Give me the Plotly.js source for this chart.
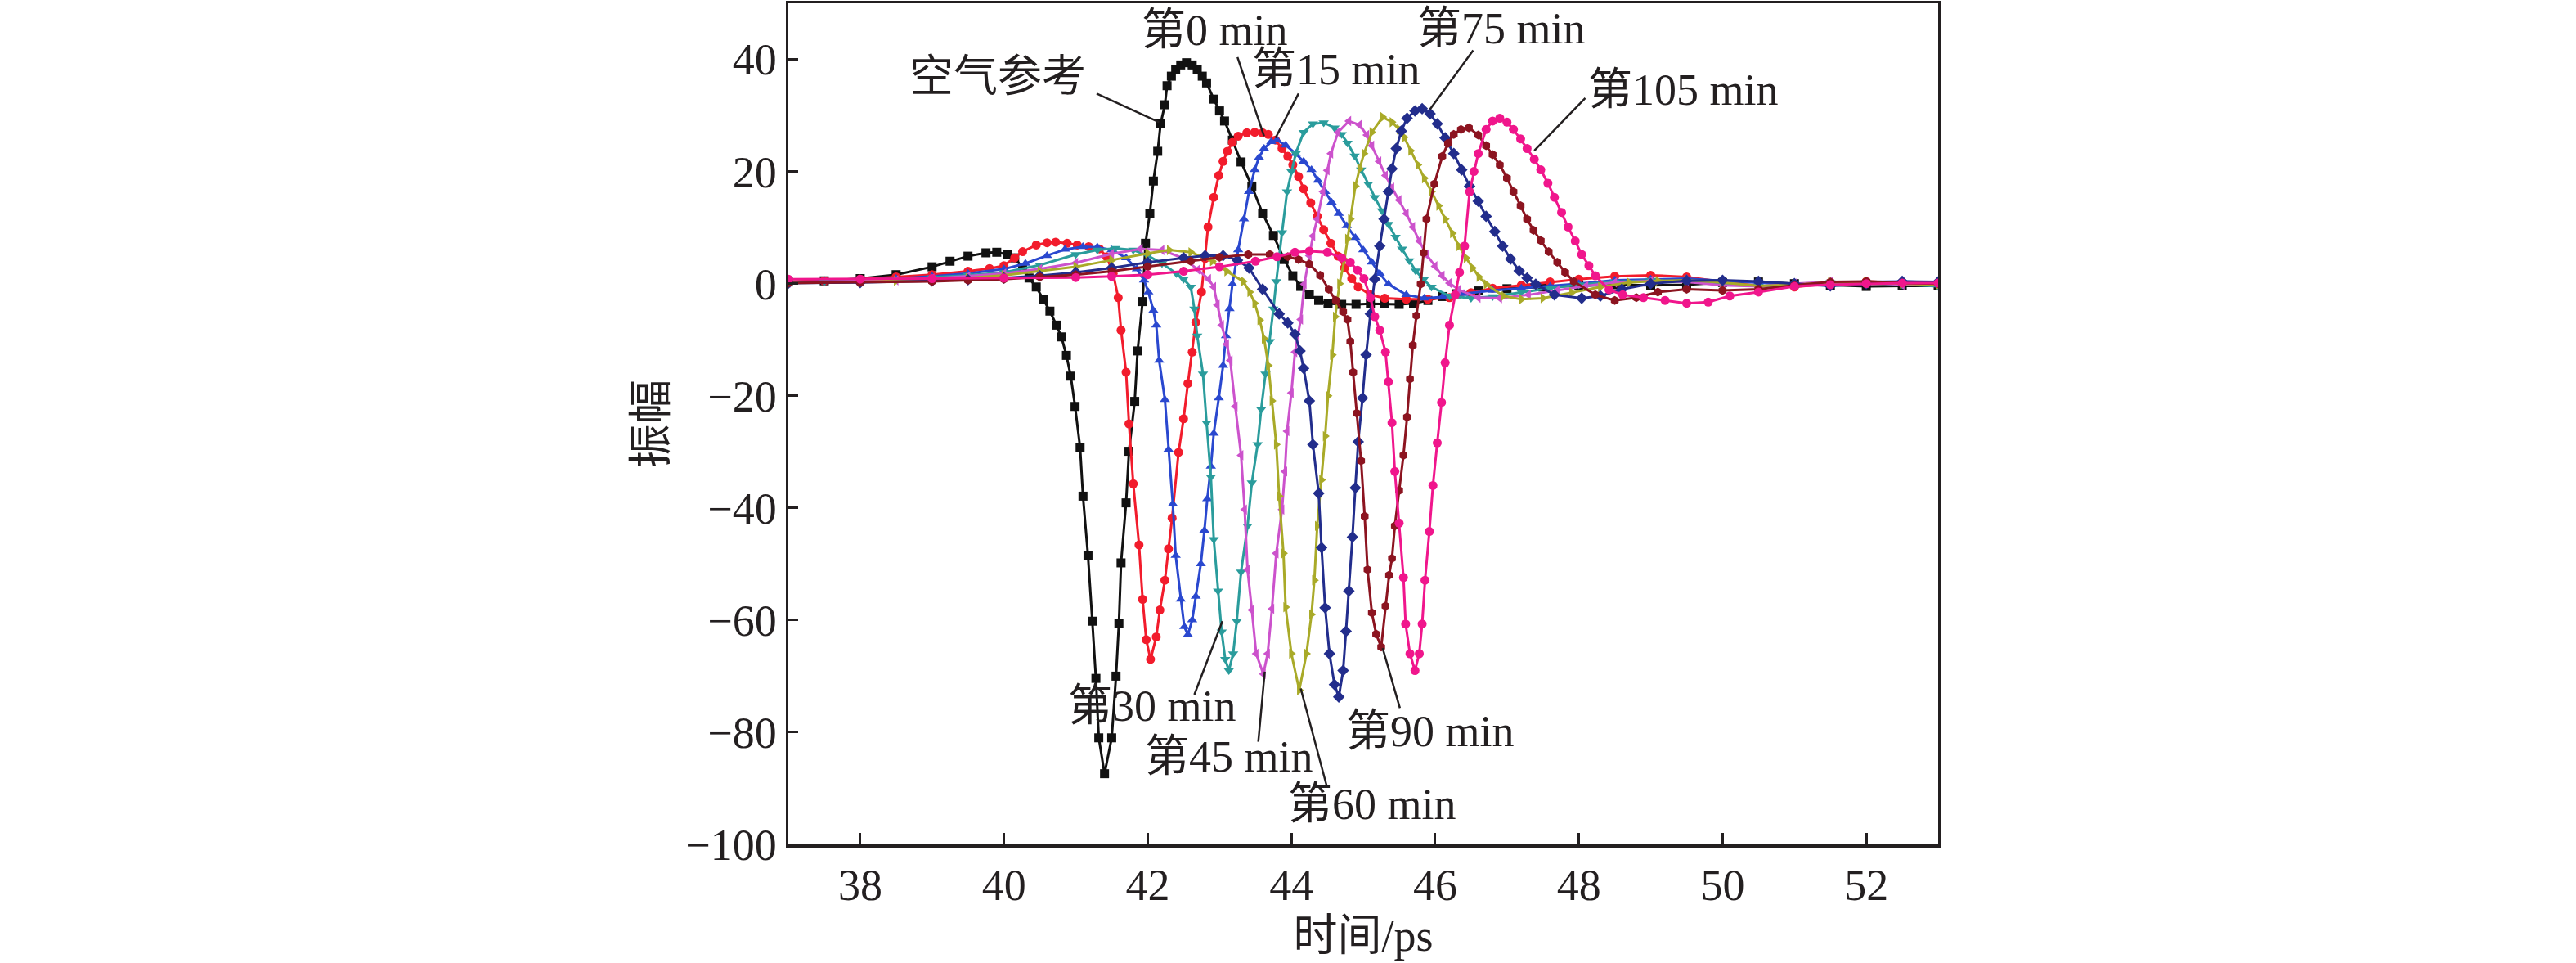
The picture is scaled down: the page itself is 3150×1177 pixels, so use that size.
<!DOCTYPE html>
<html>
<head>
<meta charset="utf-8">
<script src="https://cdn.plot.ly/plotly-3.0.1.min.js"></script>
<style>
  html, body { margin: 0; padding: 0; background: #fff; }
  #chart { width: 3150px; height: 1177px; }
</style>
</head>
<body>
<div id="chart"></div>
<script>
// [time (ps), amplitude] pairs, one array per curve
const airRef = [[37,0.3],[37.5,0.5],[38,0.9],[38.5,1.6],[39,3.0],[39.25,4.0],[39.5,4.9],[39.75,5.5],[39.9,5.6],[40.05,5.2],[40.15,4.6],[40.26,2.8],[40.35,1.0],[40.45,-0.6],[40.55,-2.8],[40.64,-4.9],[40.73,-7.4],[40.8,-9.5],[40.87,-12.8],[40.93,-16.5],[40.99,-21.9],[41.06,-29.2],[41.1,-37.9],[41.17,-48.5],[41.23,-60.2],[41.28,-70.4],[41.32,-81],[41.4,-87.4],[41.5,-81],[41.56,-70],[41.6,-60.6],[41.63,-49.8],[41.7,-39.1],[41.74,-29.9],[41.82,-21],[41.86,-12],[41.93,-3.2],[41.97,7.2],[42.03,12.5],[42.08,18.3],[42.14,23.6],[42.18,28.5],[42.24,31.9],[42.27,35.3],[42.33,37.0],[42.39,38.2],[42.46,39.0],[42.54,39.4],[42.62,39.0],[42.69,38.2],[42.76,37.0],[42.82,35.8],[42.92,32.9],[43.0,30.8],[43.07,29.0],[43.18,25.6],[43.3,21.7],[43.45,17.4],[43.6,12.5],[43.75,8.6],[43.9,4.3],[44.02,1.4],[44.13,-0.5],[44.25,-2.0],[44.38,-3.0],[44.51,-3.6],[44.7,-3.7],[44.9,-3.7],[45.1,-3.6],[45.3,-3.6],[45.5,-3.7],[45.7,-3.5],[45.9,-3.0],[46.1,-2.3],[46.3,-1.8],[46.6,-1.3],[47,-0.9],[47.5,-0.6],[48,-0.4],[48.5,-0.2],[49,-0.3],[49.5,-0.2],[50,0.2],[50.5,0.3],[51,0],[51.5,-0.3],[52,-0.5],[52.5,-0.4],[53,-0.4]];

const min0 = [[37,0.3],[37.5,0.5],[38,0.8],[38.5,1.2],[39,1.6],[39.5,2.2],[39.8,2.7],[40,3.2],[40.15,4.6],[40.26,5.7],[40.45,6.9],[40.6,7.3],[40.72,7.4],[40.88,7.2],[41.02,6.9],[41.18,6.6],[41.33,6.2],[41.43,4.8],[41.52,1.8],[41.59,-2.5],[41.63,-8.3],[41.7,-15.8],[41.74,-25],[41.8,-35.7],[41.88,-46.6],[41.93,-56.3],[41.98,-63.5],[42.04,-67],[42.12,-63],[42.17,-58.2],[42.24,-52.9],[42.29,-47.3],[42.34,-41.8],[42.43,-30.1],[42.5,-24.1],[42.56,-17.8],[42.62,-12.2],[42.67,-6.9],[42.75,-1.5],[42.8,4.5],[42.84,10.1],[42.92,15.4],[42.99,19.3],[43.05,21.8],[43.11,23.6],[43.18,25.2],[43.26,26.3],[43.38,26.9],[43.49,27.0],[43.6,26.9],[43.68,26.6],[43.78,25.6],[43.87,24.1],[43.95,22.7],[44.02,21.2],[44.1,19.1],[44.17,16.9],[44.27,14.4],[44.36,12.0],[44.45,9.6],[44.55,7.2],[44.65,4.9],[44.74,2.8],[44.84,0.9],[44.93,-0.6],[45.1,-2.0],[45.3,-2.6],[45.6,-2.8],[45.9,-2.8],[46.2,-2.5],[46.5,-1.6],[46.8,-0.8],[47.2,-0.3],[47.6,0.3],[48,0.8],[48.5,1.3],[49,1.5],[49.5,1.2],[50,0.3],[50.5,-0.4],[51,-0.6],[51.5,0],[52,0.4],[52.5,0.2],[53,0]];

const min15 = [[37,0.2],[37.5,0.4],[38,0.6],[38.5,0.9],[39,1.3],[39.5,1.8],[40,2.6],[40.3,3.6],[40.6,5.0],[40.85,6.1],[41.1,6.6],[41.3,6.5],[41.5,6.0],[41.7,4.6],[41.85,2.6],[41.95,0.6],[42.01,-1.5],[42.08,-4.8],[42.12,-7.4],[42.16,-13.7],[42.24,-20.7],[42.29,-29.6],[42.35,-39.3],[42.39,-48.5],[42.46,-56.3],[42.51,-61.2],[42.56,-62.6],[42.62,-60],[42.67,-55.8],[42.74,-50],[42.79,-44],[42.83,-38.4],[42.88,-32.6],[42.92,-26.7],[42.99,-20.4],[43.05,-14.6],[43.09,-9.3],[43.14,-4.5],[43.18,-0.1],[43.26,6.0],[43.34,11.5],[43.41,16.4],[43.49,20.3],[43.55,22.5],[43.62,24.1],[43.72,25.3],[43.8,25.6],[43.92,24.7],[44.06,23.2],[44.17,21.8],[44.28,20.3],[44.37,18.4],[44.47,16.4],[44.56,14.5],[44.66,12.5],[44.77,10.3],[44.89,8.2],[45,6.0],[45.12,3.8],[45.23,1.8],[45.35,-0.1],[45.6,-2.0],[45.85,-2.6],[46.1,-2.4],[46.4,-1.8],[46.8,-1.2],[47.2,-0.8],[47.6,-0.5],[48,0],[48.5,0.6],[49,0.8],[49.5,0.9],[50,0.5],[50.5,0.2],[51,-0.3],[51.5,-0.2],[52,0.3],[52.5,0.4],[53,0.2]];

const min30 = [[37,0.2],[37.5,0.3],[38,0.5],[38.5,0.8],[39,1.1],[39.5,1.5],[40,2.0],[40.5,3.3],[41,5.2],[41.3,6.0],[41.55,6.3],[41.8,6.0],[42,5.0],[42.2,3.6],[42.4,1.8],[42.5,0.8],[42.6,-0.6],[42.65,-4.5],[42.69,-9.3],[42.77,-16.1],[42.82,-24.8],[42.88,-34.5],[42.92,-45.6],[42.98,-54.8],[43.03,-62.1],[43.08,-67],[43.13,-69],[43.19,-66],[43.24,-60.2],[43.3,-51.4],[43.39,-43.2],[43.45,-35.5],[43.53,-28.7],[43.58,-22.4],[43.64,-16.1],[43.7,-10.3],[43.75,-4.5],[43.79,0.4],[43.83,5],[43.87,9.1],[43.94,16.4],[44,20],[44.06,23.2],[44.17,27],[44.3,28.5],[44.45,28.7],[44.6,27.8],[44.7,26.6],[44.78,25.1],[44.88,22.8],[44.97,20.3],[45.07,17.8],[45.16,15.4],[45.26,13],[45.35,10.6],[45.45,8.3],[45.54,6.2],[45.64,4.1],[45.73,2.3],[45.84,0.7],[45.95,-0.6],[46.2,-2.2],[46.5,-2.6],[46.8,-2.3],[47.2,-1.5],[47.6,-0.8],[48,-0.2],[48.5,0.3],[49,0.6],[49.5,0.4],[50,0],[50.5,-0.5],[51,-0.3],[51.5,0.2],[52,0.2],[52.5,-0.2],[53,-0.5]];

const min45 = [[37,0.2],[38,0.4],[38.5,0.6],[39,0.9],[39.5,1.3],[40,1.8],[40.5,2.6],[41,3.7],[41.5,5.3],[41.9,6.2],[42.2,6.0],[42.5,4.5],[42.7,2.5],[42.85,0.8],[42.92,-0.6],[42.97,-3.8],[43.03,-7.4],[43.1,-10.8],[43.15,-13.7],[43.22,-21.9],[43.3,-30.6],[43.35,-40.3],[43.39,-51],[43.45,-58.2],[43.51,-66],[43.61,-69.6],[43.67,-66],[43.73,-58],[43.79,-48.1],[43.87,-40.3],[43.91,-33.5],[43.94,-26.3],[44,-19.5],[44.05,-12.2],[44.13,-6.4],[44.18,-0.1],[44.25,5],[44.3,8.5],[44.36,11.5],[44.44,16.4],[44.5,20.2],[44.55,23.2],[44.65,27],[44.8,29],[44.95,28.3],[45.05,26.5],[45.12,24.6],[45.22,21.8],[45.31,19.3],[45.4,17.1],[45.5,14.9],[45.6,12.5],[45.69,10.1],[45.78,7.6],[45.88,5.2],[46,3.1],[46.1,1.4],[46.2,0.1],[46.33,-1.1],[46.6,-2.5],[46.9,-2.6],[47.3,-2],[47.7,-1.2],[48.1,-0.4],[48.5,0.2],[49,0.5],[49.5,0.3],[50,-0.3],[50.5,-0.5],[51,0],[51.5,0.3],[52,0.2],[52.5,-0.2],[53,-0.3]];

const min60 = [[37,0.2],[38,0.3],[38.5,0.5],[39,0.7],[39.5,1.0],[40,1.5],[40.5,2.2],[41,3.0],[41.5,4.2],[42,5.4],[42.3,6.0],[42.6,5.6],[42.9,4.0],[43.1,2.2],[43.33,0.4],[43.42,-1.5],[43.49,-3.5],[43.56,-6.5],[43.62,-9.8],[43.68,-14.6],[43.73,-20.9],[43.79,-28.7],[43.83,-37.9],[43.89,-48.1],[43.92,-57.7],[44,-66],[44.11,-72.5],[44.21,-66],[44.28,-59],[44.32,-52.9],[44.36,-43.2],[44.42,-35],[44.47,-27.2],[44.51,-20],[44.57,-12.7],[44.61,-5.9],[44.67,0],[44.74,4.3],[44.78,8],[44.82,11.5],[44.89,17.4],[44.95,20.5],[45.01,23.2],[45.12,27],[45.27,29.7],[45.4,28.8],[45.5,27.5],[45.57,26.1],[45.66,23.7],[45.76,21.2],[45.85,18.8],[45.95,16.4],[46.05,13.9],[46.14,11.5],[46.24,9],[46.33,6.7],[46.43,4.6],[46.52,2.8],[46.61,1.2],[46.71,-0.1],[46.95,-2.2],[47.2,-2.8],[47.5,-2.6],[47.9,-1.6],[48.3,-0.6],[48.7,0.2],[49.1,0.5],[49.5,0.6],[50,0.2],[50.5,-0.4],[51,-0.2],[51.5,0.2],[52,0.3],[52.5,0],[53,-0.2]];

const min75 = [[37,0.1],[38,0.2],[39,0.5],[39.5,0.7],[40,1.0],[40.5,1.4],[41,2.0],[41.5,2.8],[42,3.8],[42.5,4.6],[42.8,5.0],[43.05,5.0],[43.25,4.2],[43.41,2.8],[43.6,-1],[43.83,-5.4],[43.95,-7],[44.05,-9],[44.12,-12],[44.17,-15.1],[44.25,-20.9],[44.3,-28.7],[44.38,-37.4],[44.42,-47.1],[44.47,-57.8],[44.53,-66],[44.6,-71.5],[44.66,-73.7],[44.72,-69],[44.76,-62],[44.8,-54.8],[44.85,-45.2],[44.89,-36.4],[44.93,-28.2],[44.99,-20.4],[45.04,-12.7],[45.1,-5.4],[45.16,0.8],[45.23,6.7],[45.29,11.5],[45.35,16.4],[45.4,20.5],[45.46,24.1],[45.53,27.2],[45.61,29.5],[45.72,30.8],[45.82,31.2],[45.93,30.3],[46.03,28.5],[46.14,26],[46.26,23.2],[46.37,20.3],[46.48,17.4],[46.6,14.7],[46.71,12],[46.83,9.3],[46.94,6.7],[47.05,4.4],[47.17,2.3],[47.28,1],[47.4,-0.1],[47.66,-2],[48.04,-2.6],[48.3,-2.2],[48.6,-1],[49,0],[49.5,0.5],[50,0.6],[50.5,0.4],[51,0],[51.5,-0.4],[52,0],[52.5,0.4],[53,0.3]];

const min90 = [[37,0.1],[38,0.2],[39,0.4],[39.5,0.6],[40,0.8],[40.5,1.2],[41,1.6],[41.5,2.2],[42,3.0],[42.6,4.0],[43,4.7],[43.4,5.2],[43.7,5.2],[43.95,4.8],[44.1,4.3],[44.25,3.5],[44.4,1.5],[44.52,-1],[44.62,-3],[44.72,-5],[44.78,-6.4],[44.82,-10.3],[44.86,-15.8],[44.91,-23.1],[44.97,-31.6],[45.02,-41.5],[45.06,-51],[45.12,-58.7],[45.18,-62.5],[45.25,-64.8],[45.31,-57.5],[45.36,-52],[45.4,-49],[45.44,-43.2],[45.5,-36.9],[45.56,-30.6],[45.61,-23.8],[45.65,-17],[45.69,-11],[45.74,-5.7],[45.8,-0.1],[45.84,5.5],[45.88,11.5],[45.99,17.8],[46.1,22.7],[46.18,25],[46.26,26.6],[46.36,27.5],[46.47,27.8],[46.6,26.5],[46.71,24.6],[46.8,23],[46.9,21.2],[47,18.8],[47.09,16.4],[47.19,13.9],[47.28,11.5],[47.37,9.5],[47.47,7.7],[47.58,5.7],[47.7,3.8],[47.81,2],[47.93,0.4],[48.23,-2],[48.5,-3],[48.8,-2.5],[49.1,-1.5],[49.5,-1],[50,-1.2],[50.5,-1],[51,-0.3],[51.5,0.3],[52,0.4],[52.5,0.1],[53,0]];

const min105 = [[37,0.8],[38,0.8],[39,0.9],[40,1.0],[41,1.1],[41.5,1.3],[42,1.6],[42.5,2.2],[43,3.0],[43.5,4.0],[43.8,4.8],[44.05,5.6],[44.25,5.8],[44.5,5.6],[44.7,4.6],[44.82,3.8],[44.92,2.4],[45.01,0.9],[45.1,-2.5],[45.16,-5.9],[45.23,-8.3],[45.31,-12.2],[45.35,-17.5],[45.4,-24.8],[45.44,-33.5],[45.5,-42.7],[45.56,-52.4],[45.59,-60.7],[45.65,-66],[45.72,-69],[45.78,-66],[45.82,-60.7],[45.86,-52.9],[45.92,-44.2],[45.97,-36],[46.03,-28.4],[46.09,-21.2],[46.14,-14.1],[46.2,-7.4],[46.28,-2],[46.34,2],[46.41,6.7],[46.48,16.4],[46.54,20],[46.6,23.2],[46.71,27.5],[46.8,29],[46.9,29.5],[47,28.8],[47.09,27.5],[47.19,25.8],[47.28,24.1],[47.38,22.2],[47.47,20.3],[47.57,17.9],[47.66,15.4],[47.76,12.7],[47.85,10.1],[47.95,7.6],[48.04,5.2],[48.14,3.2],[48.23,1.4],[48.42,-1.1],[48.61,-2],[48.9,-2.5],[49.2,-3],[49.5,-3.5],[49.8,-3.3],[50.1,-2.2],[50.5,-1.5],[51,-0.5],[51.5,-0.2],[52,0],[52.5,0.1],[53,0.1]];

const curves = [airRef, min0, min15, min30, min45, min60, min75, min90, min105];
const curveNames = ['空气参考', '第0 min', '第15 min', '第30 min', '第45 min',
                    '第60 min', '第75 min', '第90 min', '第105 min'];
const curveColors = ['#111111', '#f21c2c', '#2a48cf', '#2a9c9c', '#cc52cc',
                     '#a9aa28', '#222d8c', '#8c1420', '#f0168c'];
const curveSymbols = ['square', 'circle', 'triangle-up', 'triangle-down',
                      'triangle-left', 'triangle-right', 'diamond', 'hexagon',
                      'circle'];

// label text, its centre, and the end points of its leader line (data units)
const labelText = ['空气参考', '第0 min', '第15 min', '第75 min', '第105 min',
                   '第30 min', '第45 min', '第60 min', '第90 min'];
const labelPos = [[39.91, 36.9], [42.93, 45.2], [44.63, 38.2], [46.92, 45.5],
                  [49.46, 34.6], [42.06, -75.4], [43.13, -84.4],
                  [45.12, -92.9], [45.93, -79.9]];
const leaderFrom = [[41.29, 33.9], [43.25, 40.4], [44.10, 33.9], [46.53, 41.6],
                    [48.09, 33.1], [42.65, -73.3], [43.54, -81.7],
                    [44.49, -89.5], [45.51, -75.7]];
const leaderTo = [[42.16, 28.8], [43.62, 26.3], [43.78, 26.0], [45.93, 31.1],
                  [47.38, 23.7], [43.04, -60.2], [43.63, -69.2],
                  [44.13, -72.2], [45.27, -65.0]];

const xTicks = [38, 40, 42, 44, 46, 48, 50, 52];
const yTicks = [-100, -80, -60, -40, -20, 0, 20, 40];

const fontFamily = "'Liberation Serif', 'Times New Roman', 'Noto Sans CJK SC', serif";
const ink = '#231f20';

let traces = curves.map((pts, i) => ({
  x: pts.map(p => p[0]),
  y: pts.map(p => p[1]),
  name: curveNames[i],
  type: 'scatter',
  mode: 'lines+markers',
  line: {color: curveColors[i], width: 3},
  marker: {color: curveColors[i], symbol: curveSymbols[i], size: 11},
  showlegend: false,
}));

let annotations = labelText.map((t, i) => ({
  x: labelPos[i][0],
  y: labelPos[i][1],
  xref: 'x',
  yref: 'y',
  text: t,
  showarrow: false,
  xanchor: 'center',
  yanchor: 'middle',
  font: {family: fontFamily, size: 54, color: ink},
}));

let shapes = leaderFrom.map((p, i) => ({
  type: 'line',
  xref: 'x',
  yref: 'y',
  x0: p[0],
  y0: p[1],
  x1: leaderTo[i][0],
  y1: leaderTo[i][1],
  line: {color: ink, width: 2.5},
}));

const layout = {
  width: 3150,
  height: 1177,
  margin: {l: 964, r: 780, t: 4, b: 145},
  paper_bgcolor: '#ffffff',
  plot_bgcolor: '#ffffff',
  font: {family: fontFamily, size: 54, color: ink},
  showlegend: false,
  xaxis: {
    range: [37, 53],
    tickvals: xTicks,
    ticktext: xTicks.map(String),
    ticks: 'inside',
    ticklen: 14,
    tickwidth: 3,
    tickcolor: ink,
    showline: true,
    linewidth: 3.5,
    linecolor: ink,
    mirror: true,
    showgrid: false,
    zeroline: false,
    tickfont: {family: fontFamily, size: 54, color: ink},
    title: {text: '时间/ps', font: {family: fontFamily, size: 54, color: ink}, standoff: 14},
  },
  yaxis: {
    range: [-100, 50],
    tickvals: yTicks,
    ticks: 'inside',
    ticklen: 12,
    tickwidth: 3,
    tickcolor: ink,
    showline: true,
    linewidth: 3.5,
    linecolor: ink,
    mirror: true,
    showgrid: false,
    zeroline: false,
    tickfont: {family: fontFamily, size: 54, color: ink},
    title: {text: '振幅', font: {family: fontFamily, size: 54, color: ink}, standoff: 6},
  },
  annotations: annotations,
  shapes: shapes,
};

Plotly.newPlot('chart', traces, layout, {staticPlot: true, displayModeBar: false});
</script>
</body>
</html>
